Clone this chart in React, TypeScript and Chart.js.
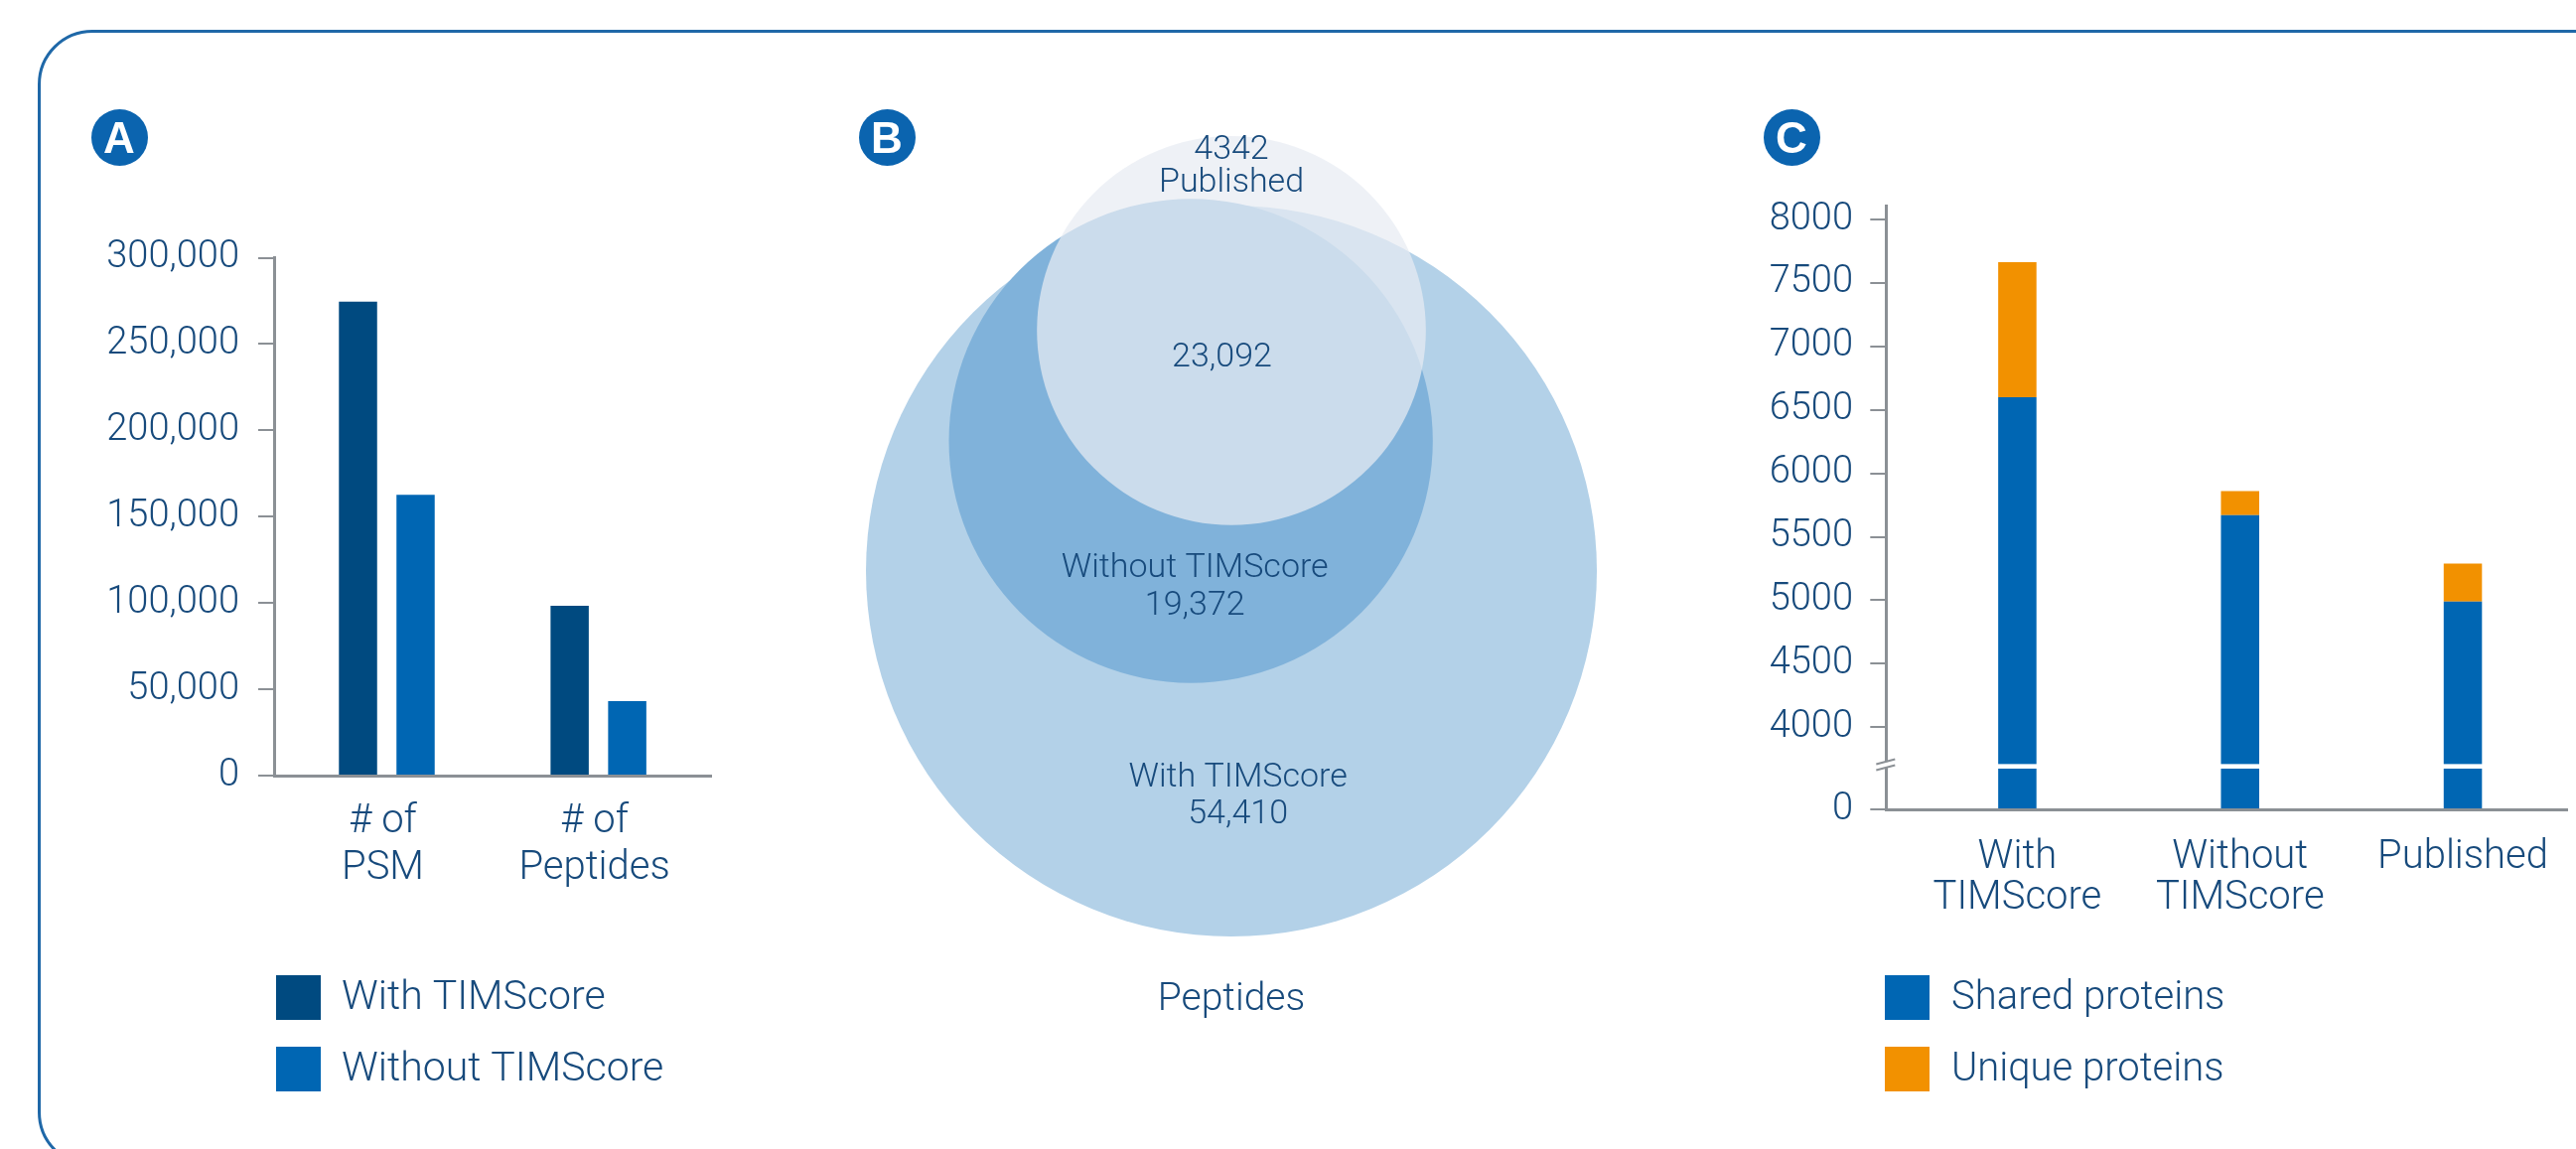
import React, { useEffect, useRef } from 'react';
import { Chart, registerables } from 'chart.js';

Chart.register(...registerables);

// ---------------- data ----------------
const A_CATEGORIES: string[][] = [['# of', 'PSM'], ['# of', 'Peptides']];
const A_SERIES = ['With TIMScore', 'Without TIMScore'];
const A_WITH = [274500, 98400];
const A_WITHOUT = [162700, 43200];
const A_TICKS = [0, 50000, 100000, 150000, 200000, 250000, 300000];

const VENN_SETS = ['With TIMScore', 'Without TIMScore', 'Published'];
const VENN_ONLY = [54410, 19372, 4342];
const VENN_SHARED = 23092;
const VENN_TITLE = 'Peptides';

const C_CATEGORIES: string[][] = [['With', 'TIMScore'], ['Without', 'TIMScore'], ['Published']];
const C_SERIES = ['Shared proteins', 'Unique proteins'];
const C_SHARED = [6600, 5670, 4990];
const C_UNIQUE = [1065, 190, 300];
const C_TICKS = [0, 4000, 4500, 5000, 5500, 6000, 6500, 7000, 7500, 8000];

const PANEL_LETTERS = ['A', 'B', 'C'];

// ---------------- layout / style ----------------
const W = 2594;
const H = 1157;
const FONT = 'Roboto, "Liberation Sans", Arial, sans-serif';
const TEXT = '#174a7c';
const AXIS = '#8b9095';
const DARK = '#004a80';
const MID = '#0066b3';
const ORANGE = '#f29100';
const FRAME = '#1f68a8';
const BADGE = '#0b64af';
const VENN_COLORS = ['#b3d1e8', '#80b2da', 'rgba(231,236,242,0.72)'];

// panel A geometry (page px)
const A_CANVAS = { left: 0, width: 740 };
const A_AREA = { left: 276, top: 259.5, right: 716, bottom: 781 };
const A_XRANGE = [-0.5326, 1.532];

// panel B geometry (unit = outer circle radius)
const B_CANVAS = { left: 800, width: 900 };
const B_XRANGE = [-1.1957, 1.25];
const B_YRANGE = [-1.5815, 1.5625];
const VENN_CENTERS = [[0, 0], [-0.111, 0.356], [0, 0.658]];

// panel C geometry
const C_CANVAS = { left: 1700, width: 894 };
const C_AREA = { left: 199.3, top: 207, right: 894, bottom: 815 };
const C_XRANGE = [-0.589, 2.471];
const C_FLOOR = 3353; // value at the baseline that stands for 0 (broken axis)
const C_MAX = 8110;
const C_BREAK_AT = 3692;

const BADGE_CENTERS = [[120, 138], [893, 138], [1804, 138]];

const fmt = (n: number) => (n < 10000 ? String(n) : n.toLocaleString('en-US'));

const sideLegend = {
  id: 'sideLegend',
  afterDraw(chart: any, _args: any, opts: any) {
    if (!opts || !opts.show) return;
    const ctx = chart.ctx;
    ctx.save();
    chart.data.datasets.forEach((ds: any, i: number) => {
      const y = opts.y + i * opts.step;
      ctx.fillStyle = ds.backgroundColor;
      ctx.fillRect(opts.x, y, opts.box, opts.box);
      ctx.fillStyle = TEXT;
      ctx.font = `300 ${opts.size}px ${FONT}`;
      ctx.textAlign = 'left';
      ctx.textBaseline = 'middle';
      ctx.fillText(ds.label, opts.textX, y + opts.box / 2 + 1);
    });
    ctx.restore();
  },
};

const axisBreak = {
  id: 'axisBreak',
  afterDatasetsDraw(chart: any) {
    const ctx = chart.ctx;
    const y = chart.scales.y.getPixelForValue(C_BREAK_AT);
    ctx.save();
    ctx.fillStyle = '#ffffff';
    chart.getDatasetMeta(0).data.forEach((bar: any) => {
      const w = bar.width;
      ctx.fillRect(bar.x - w / 2 - 1, y - 2.3, w + 2, 4.6);
    });
    ctx.restore();
  },
  afterDraw(chart: any) {
    const ctx = chart.ctx;
    const x = chart.chartArea.left;
    const y = chart.scales.y.getPixelForValue(C_BREAK_AT);
    ctx.save();
    ctx.fillStyle = '#ffffff';
    ctx.fillRect(x - 3, y - 4.5, 6, 5.5);
    ctx.strokeStyle = AXIS;
    ctx.lineWidth = 2;
    ctx.beginPath();
    ctx.moveTo(x - 10, y - 2.2);
    ctx.lineTo(x + 9, y - 7.2);
    ctx.moveTo(x - 10, y + 3.8);
    ctx.lineTo(x + 9, y - 1.2);
    ctx.stroke();
    ctx.restore();
  },
};

const vennTotals = [
  VENN_ONLY[0] + VENN_ONLY[1] + VENN_SHARED,
  VENN_ONLY[1] + VENN_SHARED,
  VENN_ONLY[2] + VENN_SHARED,
];

const vennLabels = [
  { lines: [fmt(VENN_ONLY[2]), VENN_SETS[2]], pos: [0, 1.107], size: 34, lh: 33 },
  { lines: [fmt(VENN_SHARED)], pos: [-0.026, 0.584], size: 34, lh: 33 },
  { lines: [VENN_SETS[1], fmt(VENN_ONLY[1])], pos: [-0.1, -0.0435], size: 34, lh: 38 },
  { lines: [VENN_SETS[0], fmt(VENN_ONLY[0])], pos: [0.018, -0.618], size: 34, lh: 37 },
  { lines: [VENN_TITLE], pos: [0, -1.174], size: 39, lh: 40 },
];

const vennText = {
  id: 'vennText',
  afterDatasetsDraw(chart: any) {
    const ctx = chart.ctx;
    const sx = chart.scales.x;
    const sy = chart.scales.y;
    ctx.save();
    ctx.fillStyle = TEXT;
    ctx.textAlign = 'center';
    ctx.textBaseline = 'middle';
    vennLabels.forEach((it) => {
      ctx.font = `300 ${it.size}px ${FONT}`;
      const px = sx.getPixelForValue(it.pos[0]);
      const py = sy.getPixelForValue(it.pos[1]);
      it.lines.forEach((ln, k) => {
        ctx.fillText(ln, px, py + (k - (it.lines.length - 1) / 2) * it.lh);
      });
    });
    ctx.restore();
  },
};

function radiusPx(ctx: any): number {
  const sx = ctx.chart.scales.x;
  const raw = ctx.raw as any;
  if (!sx || !raw) return 0;
  return Math.abs(sx.getPixelForValue(raw.rad) - sx.getPixelForValue(0));
}

const tickFont = (size: number, lh?: string) => ({ family: FONT, size, weight: 300 as any, lineHeight: lh || 1.2 });

export default function App() {
  const aRef = useRef<HTMLCanvasElement>(null);
  const bRef = useRef<HTMLCanvasElement>(null);
  const cRef = useRef<HTMLCanvasElement>(null);

  useEffect(() => {
    const charts: Chart[] = [];

    // ---------- Panel A ----------
    charts.push(
      new Chart(aRef.current as HTMLCanvasElement, {
        type: 'bar',
        data: {
          datasets: [
            { label: A_SERIES[0], data: A_WITH.map((v, i) => ({ x: i, y: v })) as any, backgroundColor: DARK },
            { label: A_SERIES[1], data: A_WITHOUT.map((v, i) => ({ x: i, y: v })) as any, backgroundColor: MID },
          ],
        },
        options: {
          responsive: false,
          animation: false,
          devicePixelRatio: 1,
          events: [],
          layout: { padding: { left: 0, top: A_AREA.top, right: A_CANVAS.width - A_AREA.right, bottom: 0 } },
          datasets: { bar: { categoryPercentage: 0.544, barPercentage: 0.664 } },
          plugins: {
            legend: { display: false },
            tooltip: { enabled: false },
            sideLegend: { show: true, x: 278, y: 982, step: 72, box: 45, textX: 344, size: 41 },
          } as any,
          scales: {
            x: {
              type: 'linear',
              min: A_XRANGE[0],
              max: A_XRANGE[1],
              bounds: 'data',
              offset: false,
              afterBuildTicks: (s: any) => { s.ticks = A_CATEGORIES.map((_, i) => ({ value: i })); },
              afterFit: (s: any) => { s.height = H - A_AREA.bottom; },
              grid: { display: false, drawTicks: false, offset: false },
              border: { display: true, color: AXIS, width: 3, z: 1 },
              ticks: {
                autoSkip: false,
                maxRotation: 0,
                minRotation: 0,
                padding: 23.5,
                labelOffset: -4,
                color: TEXT,
                font: tickFont(40, '47px'),
                callback: (_v: any, i: number) => A_CATEGORIES[i],
              },
            } as any,
            y: {
              type: 'linear',
              min: 0,
              max: 300000,
              bounds: 'data',
              afterBuildTicks: (s: any) => { s.ticks = A_TICKS.map((v) => ({ value: v })); },
              afterFit: (s: any) => { s.width = A_AREA.left - A_CANVAS.left; },
              grid: { display: true, drawOnChartArea: false, drawTicks: true, tickLength: 16, color: AXIS, lineWidth: 2 },
              border: { display: true, color: AXIS, width: 3, z: 1 },
              ticks: {
                padding: 19,
                color: TEXT,
                font: tickFont(38),
                callback: (_v: any, i: number) => A_TICKS[i].toLocaleString('en-US'),
              },
            } as any,
          },
        },
        plugins: [sideLegend as any],
      })
    );

    // ---------- Panel B (Venn) ----------
    charts.push(
      new Chart(bRef.current as HTMLCanvasElement, {
        type: 'scatter',
        data: {
          datasets: [
            {
              label: VENN_TITLE,
              data: VENN_CENTERS.map((c, i) => ({ x: c[0], y: c[1], rad: Math.sqrt(vennTotals[i] / vennTotals[0]) })) as any,
              pointBackgroundColor: VENN_COLORS,
              pointBorderWidth: 0,
              pointBorderColor: 'rgba(0,0,0,0)',
              pointRadius: radiusPx as any,
              pointHoverRadius: radiusPx as any,
              clip: false as any,
            },
          ],
        },
        options: {
          responsive: false,
          animation: false,
          devicePixelRatio: 1,
          events: [],
          layout: { padding: 0 },
          plugins: { legend: { display: false }, tooltip: { enabled: false } },
          scales: {
            x: { type: 'linear', display: false, min: B_XRANGE[0], max: B_XRANGE[1], bounds: 'data' } as any,
            y: { type: 'linear', display: false, min: B_YRANGE[0], max: B_YRANGE[1], bounds: 'data' } as any,
          },
        },
        plugins: [vennText as any],
      })
    );

    // ---------- Panel C ----------
    charts.push(
      new Chart(cRef.current as HTMLCanvasElement, {
        type: 'bar',
        data: {
          datasets: [
            { label: C_SERIES[0], data: C_SHARED.map((v, i) => ({ x: i, y: v })) as any, backgroundColor: MID, clip: 0 as any },
            { label: C_SERIES[1], data: C_UNIQUE.map((v, i) => ({ x: i, y: v })) as any, backgroundColor: ORANGE, clip: 0 as any },
          ],
        },
        options: {
          responsive: false,
          animation: false,
          devicePixelRatio: 1,
          events: [],
          layout: { padding: { left: 0, top: C_AREA.top, right: C_CANVAS.width - C_AREA.right, bottom: 0 } },
          datasets: { bar: { categoryPercentage: 1, barPercentage: 0.1718 } },
          plugins: {
            legend: { display: false },
            tooltip: { enabled: false },
            sideLegend: { show: true, x: 198, y: 982, step: 72, box: 45, textX: 265, size: 40 },
          } as any,
          scales: {
            x: {
              type: 'linear',
              stacked: true,
              min: C_XRANGE[0],
              max: C_XRANGE[1],
              bounds: 'data',
              offset: false,
              afterBuildTicks: (s: any) => { s.ticks = C_CATEGORIES.map((_, i) => ({ value: i })); },
              afterFit: (s: any) => { s.height = H - C_AREA.bottom; },
              grid: { display: false, drawTicks: false, offset: false },
              border: { display: true, color: AXIS, width: 3, z: 1 },
              ticks: {
                autoSkip: false,
                maxRotation: 0,
                minRotation: 0,
                padding: 28,
                color: TEXT,
                font: tickFont(40, '41px'),
                callback: (_v: any, i: number) => C_CATEGORIES[i],
              },
            } as any,
            y: {
              type: 'linear',
              stacked: true,
              min: C_FLOOR,
              max: C_MAX,
              bounds: 'data',
              afterBuildTicks: (s: any) => { s.ticks = C_TICKS.map((v) => ({ value: v === 0 ? C_FLOOR : v })); },
              afterFit: (s: any) => { s.width = C_AREA.left; },
              grid: { display: true, drawOnChartArea: false, drawTicks: true, tickLength: 16, color: AXIS, lineWidth: 2 },
              border: { display: true, color: AXIS, width: 3, z: 1 },
              ticks: {
                padding: 17.3,
                color: TEXT,
                font: tickFont(38),
                callback: (_v: any, i: number) => String(C_TICKS[i]),
              },
            } as any,
          },
        },
        plugins: [sideLegend as any, axisBreak as any],
      })
    );

    return () => charts.forEach((c) => c.destroy());
  }, []);

  const canvasStyle = (left: number): React.CSSProperties => ({ position: 'absolute', left, top: 0, display: 'block' });

  return (
    <div style={{ position: 'fixed', left: 0, top: 0, width: W, height: H, overflow: 'hidden', background: '#ffffff' }}>
      <div
        style={{
          position: 'absolute',
          left: 38,
          top: 30,
          width: 3000,
          height: 1145,
          border: `3px solid ${FRAME}`,
          borderRadius: 55,
          boxSizing: 'border-box',
        }}
      />
      <canvas ref={aRef} width={A_CANVAS.width} height={H} style={canvasStyle(A_CANVAS.left)} />
      <canvas ref={bRef} width={B_CANVAS.width} height={H} style={canvasStyle(B_CANVAS.left)} />
      <canvas ref={cRef} width={C_CANVAS.width} height={H} style={canvasStyle(C_CANVAS.left)} />
      {PANEL_LETTERS.map((l, i) => (
        <div
          key={l}
          style={{
            position: 'absolute',
            left: BADGE_CENTERS[i][0] - 28.5,
            top: BADGE_CENTERS[i][1] - 28.5,
            width: 57,
            height: 57,
            borderRadius: '50%',
            background: BADGE,
            color: '#ffffff',
            display: 'flex',
            alignItems: 'center',
            justifyContent: 'center',
            font: `bold 44px "Liberation Sans", Arial, sans-serif`,
            lineHeight: '57px',
          }}
        >
          {l}
        </div>
      ))}
    </div>
  );
}
